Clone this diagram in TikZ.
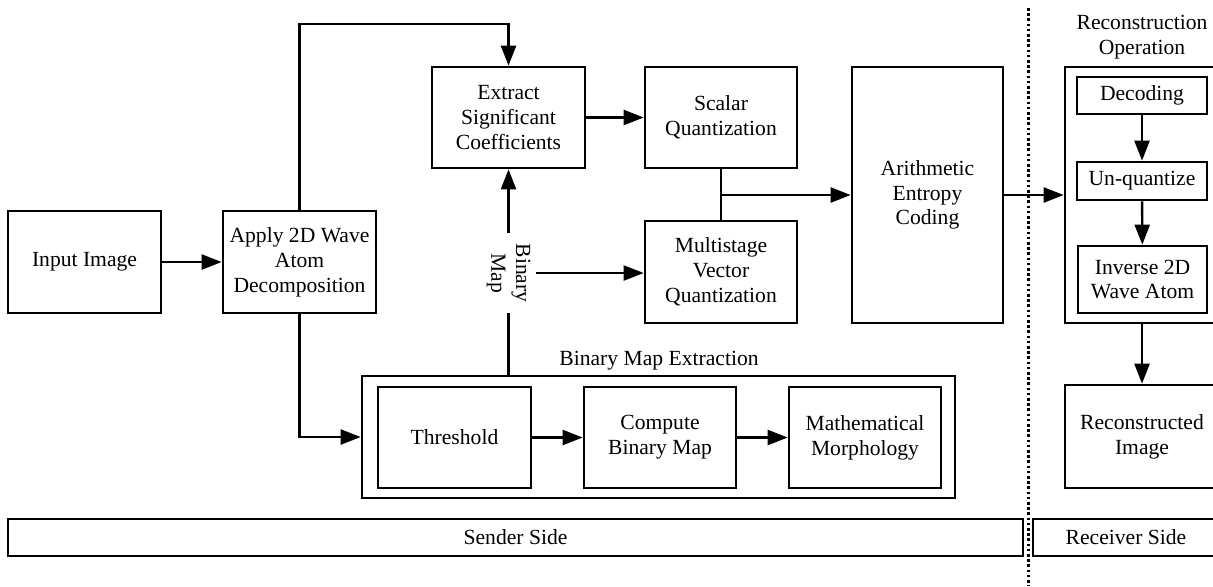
\documentclass[tikz,border=0pt]{standalone}
\usepackage{fontspec}
\setmainfont{Liberation Serif}
\usetikzlibrary{arrows.meta}
\begin{document}
\begin{tikzpicture}[x=0.5pt,y=-0.5pt,
  every node/.style={font=\fontsize{10.8pt}{12.4pt}\selectfont, align=center},
  blk/.style={draw, line width=1.35pt, inner sep=0pt},
  wire/.style={line width=1.2pt},
  flow/.style={wire, -{Triangle[length=10pt,width=7.5pt]}},
]
\useasboundingbox (0,0) rectangle (1213,586);
\clip (0,0) rectangle (1213,586);

% sender side blocks
\node[blk, minimum width=76.5pt, minimum height=51pt] (input) at (84.5,262) {Input Image};
\node[blk, minimum width=76.5pt, minimum height=51pt] (apply) at (299.5,262) {Apply 2D Wave\\Atom\\Decomposition};
\node[blk, minimum width=76.5pt, minimum height=50.5pt] (extract) at (508.5,117.5) {Extract\\Significant\\Coefficients};
\node[blk, minimum width=76pt, minimum height=50.5pt] (scalar) at (721,117.5) {Scalar\\Quantization};
\node[blk, minimum width=76pt, minimum height=51pt] (multi) at (721,272) {Multistage\\Vector\\Quantization};
\node[blk, minimum width=75.5pt, minimum height=128pt] (arith) at (927.5,195) {Arithmetic\\Entropy\\Coding};

% binary map extraction group
\node[blk, minimum width=296.5pt, minimum height=61pt] (bme) at (658.5,437) {};
\node (bmetitle) at (659,361) {Binary Map Extraction};
\node[blk, minimum width=76.5pt, minimum height=50.5pt] (thresh) at (454.5,437.5) {Threshold};
\node[blk, minimum width=76pt, minimum height=50.5pt] (compute) at (660,437.5) {Compute\\Binary Map};
\node[blk, minimum width=76pt, minimum height=50.5pt] (math) at (865,437.5) {Mathematical\\Morphology};

% receiver side blocks
\node[blk, minimum width=77pt, minimum height=128pt] (recon) at (1142,195) {};
\node (recontitle) at (1142,37) {Reconstruction\\Operation};
\node[blk, minimum width=65pt, minimum height=18.5pt] (decode) at (1142,95.5) {Decoding};
\node[blk, minimum width=65pt, minimum height=19pt] (unq) at (1142,181) {Un-quantize};
\node[blk, minimum width=64.5pt, minimum height=33.5pt] (inv) at (1142.5,279.5) {Inverse 2D\\Wave Atom};
\node[blk, minimum width=77pt, minimum height=51.5pt] (rimg) at (1142,436.5) {Reconstructed\\Image};

% side bars and separator
\node[blk, minimum width=507.5pt, minimum height=18.5pt] (sender) at (515.5,537.5) {Sender Side};
\node[blk, minimum width=93pt, minimum height=18.5pt] (receiver) at (1126,537.5) {Receiver Side};
\draw[line width=1.3pt, dash pattern=on 1.3pt off 1.3pt] (1028.5,8) -- (1028.5,586);

% binary map label on the vertical link
\node[rotate=-90, inner xsep=5pt, inner ysep=2.5pt] (bmap) at (508.5,273) {Binary\\Map};

% connectors
\coordinate (topbend) at (300,24);
\draw[flow] (input) -- (apply);
\draw[flow] (apply.north) -- (apply.north |- topbend) -| (extract.north);
\draw[flow] (apply.south) |- (bme.west);
\draw[flow] (extract) -- (scalar);
\draw[wire] (bmap.center |- bme.north) -- (bmap.east);
\draw[flow] (bmap.west) -- (extract.south);
\draw[flow] (bmap.north) -- (bmap.north -| multi.west);
\draw[wire] (scalar.south) -- (multi.north);
\draw[flow] (scalar.south |- arith.west) -- (arith.west);
\draw[flow] (arith) -- (recon);
\draw[flow] (decode) -- (unq);
\draw[flow] (unq) -- (inv);
\draw[flow] (recon) -- (rimg);
\draw[flow] (thresh) -- (compute);
\draw[flow] (compute) -- (math);
\end{tikzpicture}
\end{document}
